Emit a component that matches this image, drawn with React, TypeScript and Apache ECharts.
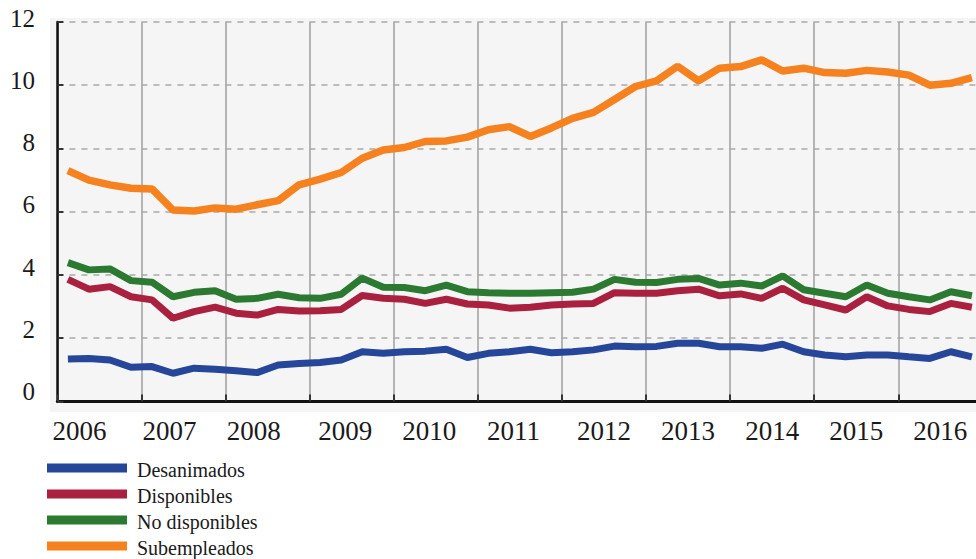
import React, { useEffect, useRef } from "react";
import * as echarts from "echarts";

const years = ["2006", "2007", "2008", "2009", "2010", "2011", "2012", "2013", "2014", "2015", "2016"];
const quarters = ["T1", "T2", "T3", "T4"];
const yTicks = { min: 0, max: 12, interval: 2 };

const desanimados = [
  1.34, 1.36, 1.31, 1.08, 1.10, 0.89, 1.05, 1.02, 0.97, 0.91, 1.15, 1.20,
  1.23, 1.31, 1.57, 1.52, 1.57, 1.59, 1.65, 1.39, 1.52, 1.57, 1.65, 1.54,
  1.57, 1.63, 1.75, 1.73, 1.74, 1.84, 1.84, 1.73, 1.73, 1.68, 1.81, 1.57,
  1.47, 1.41, 1.47, 1.47, 1.41, 1.36, 1.57, 1.41,
];
const disponibles = [
  3.86, 3.55, 3.63, 3.31, 3.21, 2.63, 2.84, 2.98, 2.79, 2.73, 2.91, 2.86,
  2.87, 2.91, 3.35, 3.26, 3.23, 3.10, 3.23, 3.08, 3.05, 2.95, 2.98, 3.05,
  3.08, 3.10, 3.44, 3.42, 3.42, 3.50, 3.55, 3.34, 3.40, 3.26, 3.58, 3.21,
  3.05, 2.89, 3.31, 3.02, 2.91, 2.84, 3.10, 2.98,
];
const noDisponibles = [
  4.39, 4.16, 4.19, 3.82, 3.77, 3.31, 3.45, 3.50, 3.23, 3.26, 3.39, 3.28,
  3.26, 3.39, 3.90, 3.61, 3.60, 3.50, 3.68, 3.47, 3.44, 3.42, 3.42, 3.44,
  3.45, 3.55, 3.86, 3.77, 3.76, 3.86, 3.89, 3.68, 3.74, 3.65, 3.97, 3.53,
  3.42, 3.31, 3.68, 3.42, 3.31, 3.21, 3.47, 3.34,
];
const subempleados = [
  7.30, 7.00, 6.85, 6.74, 6.72, 6.05, 6.02, 6.12, 6.08, 6.22, 6.35, 6.85,
  7.03, 7.24, 7.69, 7.95, 8.03, 8.22, 8.24, 8.36, 8.59, 8.69, 8.38, 8.65,
  8.95, 9.14, 9.55, 9.96, 10.14, 10.60, 10.14, 10.54, 10.59, 10.80, 10.45, 10.54,
  10.40, 10.38, 10.47, 10.42, 10.32, 10.00, 10.06, 10.24,
];

const seriesNames = ["Desanimados", "Disponibles", "No disponibles", "Subempleados"];
const seriesData = [desanimados, disponibles, noDisponibles, subempleados];
const seriesColors = ["#26469a", "#a9213f", "#2c7a31", "#f5821f"];

const categories = years.flatMap((y) => quarters.map((q) => `${y} ${q}`));

const FONT = "Liberation Serif";

export default function App() {
  const ref = useRef<HTMLDivElement>(null);

  useEffect(() => {
    if (!ref.current) return;
    const chart = echarts.init(ref.current, undefined, { renderer: "svg" });
    const gridLeft = 57.4;
    const gridWidth = 925;
    const serif = (size: number, extra: object = {}) => ({
      fontFamily: FONT,
      fontSize: size,
      color: "#1a1a1a",
      ...extra,
    });
    chart.setOption({
      animation: false,
      backgroundColor: "#ffffff",
      textStyle: { fontFamily: FONT },
      graphic: [
        {
          type: "rect",
          z: -10,
          silent: true,
          shape: { x: 50, y: 18, width: 930, height: 394 },
          style: { fill: "#f5f5f5" },
        },
      ],
      grid: [
        { left: gridLeft, top: 22, width: gridWidth, height: 379.4, outerBoundsMode: "none", containLabel: false },
        { left: gridLeft, top: 18, width: 100, height: 373.7, outerBoundsMode: "none", containLabel: false },
      ],
      legend: {
        orient: "vertical",
        left: 47,
        top: 460,
        height: 140,
        padding: 0,
        itemWidth: 80,
        itemHeight: 9,
        itemGap: 6,
        icon: "rect",
        selectedMode: false,
        data: seriesNames,
        formatter: (name: string) => `{t|${name}}`,
        textStyle: {
          fontFamily: FONT,
          fontSize: 20,
          color: "#1a1a1a",
          rich: { t: serif(20, { padding: [4, 0, 0, 5] }) },
        },
      },
      xAxis: [
        {
          type: "category",
          gridIndex: 0,
          data: categories,
          boundaryGap: true,
          show: false,
          position: "top",
        },
        {
          type: "category",
          gridIndex: 0,
          data: years,
          boundaryGap: true,
          position: "bottom",
          axisLine: { show: true, lineStyle: { color: "#111", width: 3 } },
          axisTick: { show: true, interval: 0, inside: true, length: 7, lineStyle: { color: "#333", width: 2 } },
          splitLine: { show: true, interval: 0, lineStyle: { color: "#a5a5a5", width: 1.6, type: "solid" } },
          axisLabel: {
            show: true,
            interval: 0,
            hideOverlap: false,
            margin: 16,
            fontFamily: FONT,
            fontSize: 27,
            color: "#1a1a1a",
            formatter: (value: string, index: number) => {
              if (index === 0) return `{a|${value}}`;
              if (index <= 2) return `{b|${value}}`;
              if (index <= 5) return `{c|${value}}`;
              return `{d|${value}}`;
            },
            rich: {
              a: serif(27, { padding: [0, 40, 0, 0] }),
              b: serif(27, { padding: [0, 28, 0, 0] }),
              c: serif(27, { padding: [0, 13, 0, 0] }),
              d: serif(27),
            },
          },
        },
        { type: "value", gridIndex: 1, show: false },
      ],
      yAxis: [
        {
          type: "value",
          gridIndex: 0,
          min: yTicks.min,
          max: yTicks.max,
          interval: yTicks.interval,
          axisLine: { show: true, lineStyle: { color: "#111", width: 2.5 } },
          axisTick: { show: true, inside: true, length: 6, lineStyle: { color: "#333", width: 2 } },
          splitLine: { show: true, lineStyle: { color: "#bcbcbc", width: 2, type: [6, 6] } },
          axisLabel: { show: false },
        },
        {
          type: "value",
          gridIndex: 1,
          min: yTicks.min,
          max: yTicks.max,
          interval: yTicks.interval,
          axisLine: { show: false },
          axisTick: { show: false },
          splitLine: { show: false },
          axisLabel: {
            show: true,
            margin: 22.4,
            fontFamily: FONT,
            fontSize: 25,
            color: "#1a1a1a",
            formatter: (v: number) => `{y|${v}}`,
            rich: { y: serif(25) },
          },
        },
      ],
      series: seriesNames.map((name, i) => ({
        name,
        type: "line",
        xAxisIndex: 0,
        yAxisIndex: 0,
        data: seriesData[i],
        symbol: "none",
        silent: true,
        color: seriesColors[i],
        itemStyle: { color: seriesColors[i] },
        lineStyle: { color: seriesColors[i], width: i === 3 ? 7.5 : 7 },
        emphasis: { disabled: true },
        z: 2 + i,
      })),
    });
    return () => chart.dispose();
  }, []);

  return (
    <div
      ref={ref}
      style={{ position: "fixed", left: 0, top: 0, width: 976, height: 559, background: "#fff" }}
    />
  );
}
